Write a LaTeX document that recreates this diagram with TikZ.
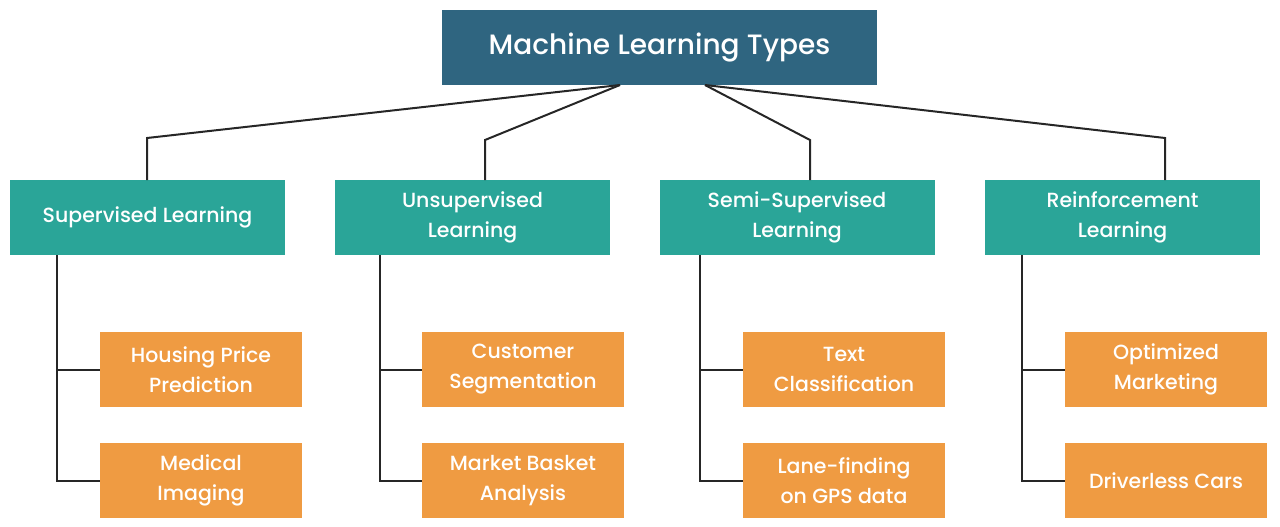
\documentclass[tikz,border=0pt]{standalone}
\usepackage{fontspec}
\setmainfont{Poppins}[UprightFont=* Medium]
\begin{document}
\begin{tikzpicture}[x=1pt,y=-1pt,
  top/.style={fill=topc,text=white,minimum width=435pt,minimum height=75pt,inner sep=0pt,font=\fontsize{28}{32}\selectfont},
  mid/.style={fill=midc,text=white,minimum width=275pt,minimum height=75pt,inner sep=0pt,align=center,font=\fontsize{20.5}{30}\selectfont},
  leaf/.style={fill=leafc,text=white,minimum width=202pt,minimum height=75pt,inner sep=0pt,align=center,font=\fontsize{20.5}{30}\selectfont},
  ln/.style={line width=2pt,black!85}]
\definecolor{topc}{HTML}{2F6580}
\definecolor{midc}{HTML}{2AA598}
\definecolor{leafc}{HTML}{EF9B42}
\useasboundingbox (0,0) rectangle (1280,527);
\node[top] (t) at (659.5,47.5) {Machine Learning Types};
\node[mid] (s) at (147.5,217.5) {Supervised Learning};
\node[mid] (u) at (472.5,217.5) {Unsupervised\\Learning};
\node[mid] (ss) at (797,217.5) {Semi-Supervised\\Learning};
\node[mid] (r) at (1122.5,217.5) {Reinforcement\\Learning};
\node[leaf] (s1) at (201,369.5) {Housing Price\\Prediction};
\node[leaf] (s2) at (201,480.5) {Medical\\Imaging};
\node[leaf] (u1) at (523,369.5) {Customer\\Segmentation};
\node[leaf] (u2) at (523,480.5) {Market Basket\\Analysis};
\node[leaf] (ss1) at (844,369.5) {Text\\Classification};
\node[leaf] (ss2) at (844,480.5) {Lane-finding\\on GPS data};
\node[leaf] (r1) at (1166,369.5) {Optimized\\Marketing};
\node[leaf] (r2) at (1166,480.5) {Driverless Cars};
\coordinate (tl) at (620,85); \coordinate (tr) at (705,85);
\draw[ln] (tl) -- (147,138) -- (147,180);
\draw[ln] (tl) -- (485,140) -- (485,180);
\draw[ln] (tr) -- (810,140) -- (810,180);
\draw[ln] (tr) -- (1165,138) -- (1165,180);
\foreach \p/\x/\a/\b in {s/57/s1/s2,u/380/u1/u2,ss/700/ss1/ss2,r/1022/r1/r2}{
  \draw[ln] (\x,255) -- (\x,480.5) -- (\b.west);
  \draw[ln] (\x,369.5) -- (\a.west);
}
\end{tikzpicture}
\end{document}
